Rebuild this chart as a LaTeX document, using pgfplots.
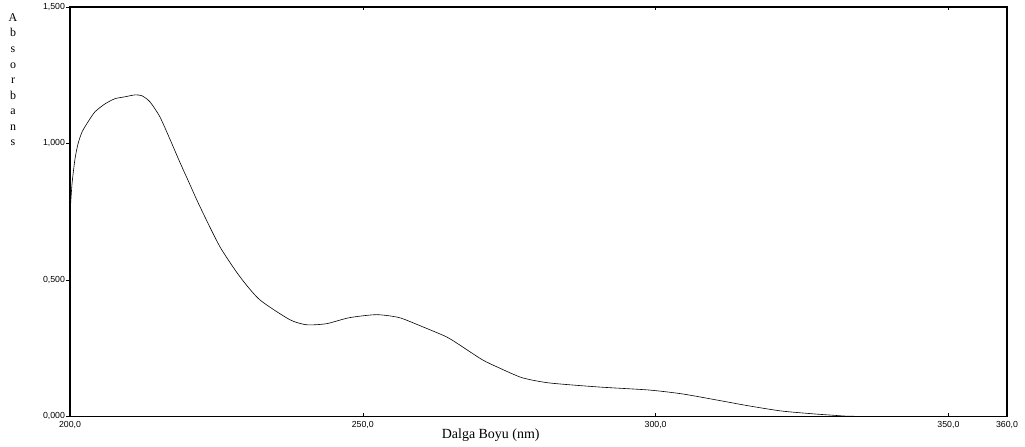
\documentclass[border=0pt]{standalone}
\usepackage{pgfplots}
\pgfplotsset{compat=1.18}
\usepackage{fontspec}
\setmainfont{Liberation Serif}
\newfontfamily\tickfont{Liberation Sans}
\begin{document}
\begin{tikzpicture}
\begin{axis}[
  name=ax,
  scale only axis,
  width=937bp, height=409.5bp,
  xmin=200, xmax=360, ymin=0, ymax=1.5,
  axis line style={line width=1.1pt},
  xtick={200,250,300,350,360},
  xticklabels={{200,0},{250,0},{300,0},{350,0},{360,0}},
  ytick={0,0.5,1,1.5},
  yticklabels={{0,000},{0,500},{1,000},{1,500}},
  tick style={black, line width=0.6pt},
  major tick length=3.5bp,
  xtick pos=both, ytick pos=left,
  xtick align=inside, ytick align=outside,
  ticklabel style={font=\tickfont\fontsize{8.8}{10}\selectfont},
  xticklabel style={yshift=-1bp},
  yticklabel style={xshift=2bp},
  xlabel={Dalga Boyu (nm)},
  xlabel style={font=\fontsize{14}{16}\selectfont, at={(rel axis cs:0.449,0)}, anchor=north, yshift=-9bp},
  clip=false,
]
\addplot[black, line width=0.6pt, smooth, tension=0.4] coordinates {
(200.0,0.741) (200.34,0.851) (200.85,0.943) (201.36,0.998) (202.05,1.042)
(203.07,1.079) (204.26,1.116) (205.97,1.145) (207.67,1.164) (209.37,1.171)
(211.08,1.178) (212.27,1.175) (213.64,1.153) (215.34,1.098) (217.04,1.017)
(218.75,0.932) (220.45,0.851) (222.16,0.770) (225.57,0.623) (228.98,0.513)
(232.38,0.428) (237.50,0.355) (240.40,0.336) (243.80,0.340) (247.72,0.362)
(252.33,0.373) (256.25,0.362) (260.17,0.329) (264.26,0.292) (266.47,0.263)
(270.39,0.208) (273.29,0.178) (277.21,0.142) (281.81,0.123) (290.34,0.108)
(298.86,0.097) (304.48,0.083) (310.28,0.061) (315.90,0.039) (321.53,0.020)
(327.32,0.009) (330.05,0.005) (333.0,0.001) (340.0,0.0) (350.0,0.0)
};
\end{axis}
\path[use as bounding box] ([shift={(-70bp,-30.5bp)}]ax.south west) rectangle ([shift={(18bp,7bp)}]ax.north east);
\node[anchor=north, align=center, font=\fontsize{12}{15.6}\selectfont] at ([shift={(-57bp,-3bp)}]ax.north west) {A\\b\\s\\o\\r\\b\\a\\n\\s};
\end{tikzpicture}
\end{document}
